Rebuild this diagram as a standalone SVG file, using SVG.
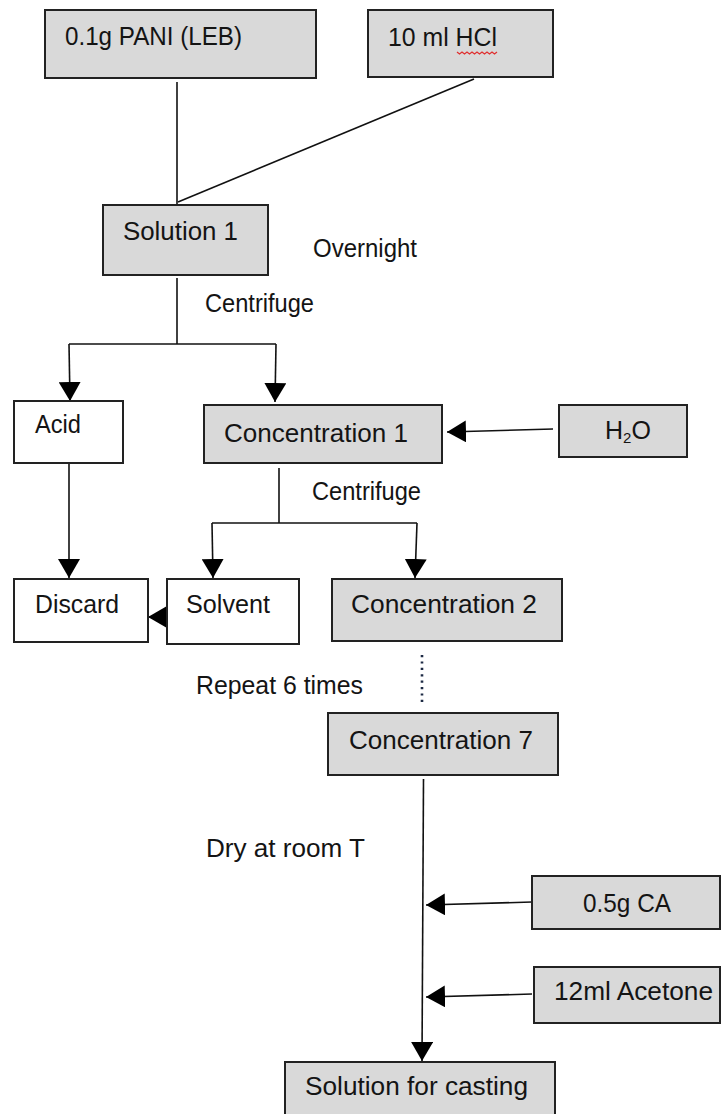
<svg xmlns="http://www.w3.org/2000/svg" width="727" height="1114" viewBox="0 0 727 1114">
<style>
.g{fill:#d9d9d9;stroke:#222;stroke-width:2}
.w{fill:#fff;stroke:#222;stroke-width:2}
text{font-family:"Liberation Sans",Arial,sans-serif;font-size:25px;fill:#141414}
.c{fill:none;stroke:#111;stroke-width:1.6}
.a{marker-end:url(#ah)}
</style>
<defs>
<marker id="ah" markerUnits="userSpaceOnUse" markerWidth="20" markerHeight="22" refX="19" refY="11" orient="auto">
<path d="M0,0 L19,11 L0,22 z" fill="#000"/>
</marker>
</defs>
<rect width="727" height="1114" fill="#fff"/>
<g id="connectors">
<line class="c" x1="177" y1="82" x2="177" y2="205"/>
<line class="c" x1="474" y1="79" x2="178" y2="202"/>
<line class="c" x1="177" y1="278" x2="177" y2="344"/>
<line class="c" x1="69" y1="344" x2="276" y2="344"/>
<line class="c a" x1="69" y1="344" x2="70" y2="401"/>
<line class="c a" x1="276" y1="344" x2="275" y2="402"/>
<line class="c a" x1="553" y1="429" x2="447" y2="432"/>
<line class="c a" x1="69" y1="463" x2="69" y2="578"/>
<line class="c" x1="279" y1="468" x2="279" y2="523"/>
<line class="c" x1="212" y1="523" x2="417" y2="523"/>
<line class="c a" x1="212" y1="523" x2="213" y2="578"/>
<line class="c a" x1="417" y1="523" x2="415" y2="578"/>
<line class="c a" x1="166" y1="617" x2="148" y2="617"/>
<line x1="422" y1="655" x2="422" y2="706" stroke="#1d2a44" stroke-width="2.6" stroke-dasharray="2.2 4.2"/>
<line class="c a" x1="423.5" y1="779" x2="422" y2="1061"/>
<line class="c a" x1="532" y1="902" x2="426" y2="905"/>
<line class="c a" x1="532" y1="994" x2="426" y2="997"/>
</g>
<g id="pani"><rect class="g" x="45" y="10" width="271" height="68"/><text x="65" y="45" textLength="177" lengthAdjust="spacingAndGlyphs">0.1g PANI (LEB)</text></g>
<g id="hcl"><rect class="g" x="368" y="10" width="185" height="67"/><text x="388" y="46" textLength="109" lengthAdjust="spacingAndGlyphs">10 ml HCl</text><path d="M457,52 l2.5,2 2.5,-2 2.5,2 2.5,-2 2.5,2 2.5,-2 2.5,2 2.5,-2 2.5,2 2.5,-2 2.5,2 2.5,-2 2.5,2 2.5,-2 2.5,2 2.5,-2" fill="none" stroke="#e03030" stroke-width="1.3"/></g>
<g id="solution1"><rect class="g" x="103" y="205" width="165" height="70"/><text x="123" y="240" textLength="115" lengthAdjust="spacingAndGlyphs">Solution 1</text></g>
<g id="label-overnight"><text x="313" y="257" textLength="104" lengthAdjust="spacingAndGlyphs">Overnight</text></g>
<g id="label-centrifuge1"><text x="205" y="312" textLength="109" lengthAdjust="spacingAndGlyphs">Centrifuge</text></g>
<g id="acid"><rect class="w" x="14" y="401" width="109" height="62"/><text x="35" y="433" textLength="46" lengthAdjust="spacingAndGlyphs">Acid</text></g>
<g id="conc1"><rect class="g" x="204" y="405" width="238" height="58"/><text x="224" y="442" textLength="184" lengthAdjust="spacingAndGlyphs">Concentration 1</text></g>
<g id="h2o"><rect class="g" x="559" y="405" width="128" height="52"/><text x="605" y="439">H<tspan font-size="15" dy="4">2</tspan><tspan dy="-4">O</tspan></text></g>
<g id="label-centrifuge2"><text x="312" y="500" textLength="109" lengthAdjust="spacingAndGlyphs">Centrifuge</text></g>
<g id="discard"><rect class="w" x="14" y="579" width="134" height="63"/><text x="35" y="613" textLength="84" lengthAdjust="spacingAndGlyphs">Discard</text></g>
<g id="solvent"><rect class="w" x="167" y="579" width="132" height="65"/><text x="186" y="613" textLength="84" lengthAdjust="spacingAndGlyphs">Solvent</text></g>
<g id="conc2"><rect class="g" x="332" y="579" width="230" height="62"/><text x="351" y="613" textLength="186" lengthAdjust="spacingAndGlyphs">Concentration 2</text></g>
<g id="label-repeat"><text x="196" y="694" textLength="167" lengthAdjust="spacingAndGlyphs">Repeat 6 times</text></g>
<g id="conc7"><rect class="g" x="328" y="713" width="230" height="62"/><text x="349" y="749" textLength="184" lengthAdjust="spacingAndGlyphs">Concentration 7</text></g>
<g id="label-dry"><text x="206" y="857" textLength="159" lengthAdjust="spacingAndGlyphs">Dry at room T</text></g>
<g id="ca"><rect class="g" x="532" y="876" width="188" height="53"/><text x="583" y="912" textLength="88" lengthAdjust="spacingAndGlyphs">0.5g CA</text></g>
<g id="acetone"><rect class="g" x="534" y="967" width="186" height="56"/><text x="554" y="1000" textLength="159" lengthAdjust="spacingAndGlyphs">12ml Acetone</text></g>
<g id="casting"><rect class="g" x="285" y="1062" width="270" height="70"/><text x="305" y="1095" textLength="223" lengthAdjust="spacingAndGlyphs">Solution for casting</text></g>
</svg>
